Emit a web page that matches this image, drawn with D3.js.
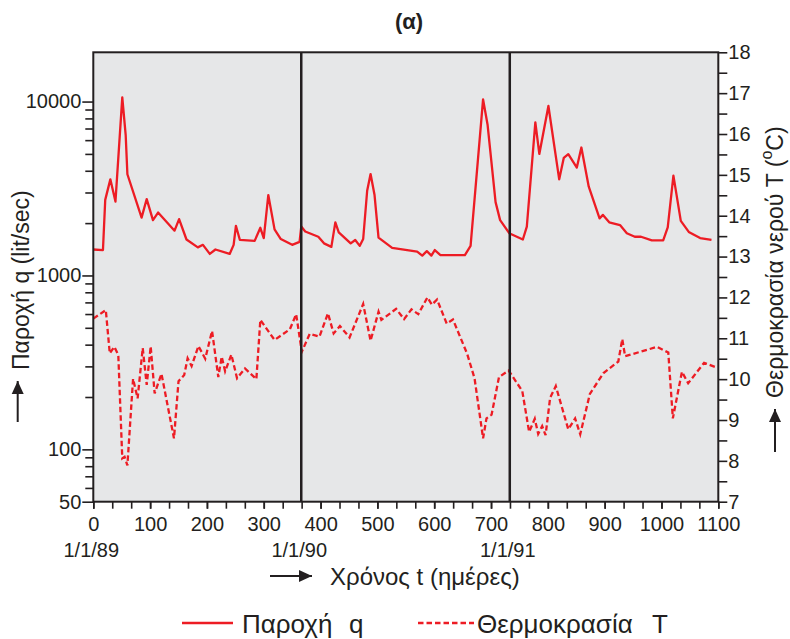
<!DOCTYPE html>
<html><head><meta charset="utf-8">
<script src="https://cdn.jsdelivr.net/npm/d3@7"></script>
<style>
body{margin:0;background:#fff;}
text{font-family:"Liberation Sans",Arial,sans-serif;fill:#231f20;}
</style>
</head><body><svg id="c" width="790" height="639"></svg>
<script>
// ---- data ----
const qDays=[0,17,21,30,39,51,57,60,85,94,105,114,143,151,164,184,193,205,215,240,247,251,258,284,294,300,308,319,330,350,363,366,373,396,406,419,426,432,453,461,469,475,482,488,495,502,526,570,579,587,595,601,611,654,664,686,694,708,716,732,756,763,778,785,801,820,828,836,851,859,872,891,897,908,927,939,953,964,983,1003,1011,1021,1034,1048,1068,1088];
const qVals=[1410,1400,2720,3570,2660,10580,6420,3820,2150,2750,2080,2300,1810,2110,1610,1450,1500,1330,1410,1330,1500,1930,1600,1580,1880,1640,2900,1840,1620,1500,1560,1910,1790,1670,1530,1460,2020,1770,1530,1600,1480,1620,3070,3830,2900,1650,1440,1370,1300,1380,1300,1400,1310,1310,1480,10300,7330,2640,2080,1750,1610,1910,7600,5000,9430,3570,4740,4980,4170,5440,3240,2130,2230,2020,1950,1750,1670,1670,1590,1590,1890,3750,2060,1780,1640,1600];
const tDays=[0,22,29,37,44,51,55,60,70,78,87,94,101,108,120,142,150,160,166,173,185,197,209,220,226,232,243,253,267,287,294,319,346,357,367,381,398,413,423,434,451,475,488,502,507,533,547,560,572,588,596,605,622,633,658,671,686,692,701,714,731,755,767,777,783,790,796,804,814,836,848,857,874,898,924,931,936,992,1012,1020,1036,1047,1075,1098];
const tVals=[11.48,11.69,10.63,10.79,10.59,8.06,8.10,7.89,10.01,9.53,10.76,9.86,10.80,9.65,10.13,8.55,9.95,10.10,10.51,10.32,10.81,10.50,11.18,10.05,10.55,10.19,10.60,10.02,10.26,10.00,11.45,10.96,11.22,11.59,10.67,11.11,11.04,11.61,11.12,11.30,11.02,11.84,10.94,11.65,11.45,11.72,11.47,11.71,11.59,12.00,11.82,11.95,11.36,11.46,10.62,10.02,8.55,9.04,9.13,10.05,10.21,9.71,8.71,9.03,8.66,8.85,8.63,9.54,9.83,8.77,9.04,8.65,9.64,10.15,10.43,10.98,10.56,10.79,10.65,9.04,10.18,9.90,10.40,10.28];
const xMajorTicks=[0,100,200,300,400,500,600,700,800,900,1000,1100];
const yearDays=[0,366,733];
const yearLabels=["1/1/89","1/1/90","1/1/91"];
const qMajorTicks=[50,100,1000,10000];
const qMinorTicks=[60,70,80,90,200,300,400,500,600,700,800,900,2000,3000,4000,5000,6000,7000,8000,9000];
const tMajorTicks=[7,8,9,10,11,12,13,14,15,16,17,18];
const tMinorTicks=[7.5,8.5,9.5,10.5,11.5,12.5,13.5,14.5,15.5,16.5,17.5];
const legendLabels=["Παροχή","q","Θερμοκρασία","T"];

// ---- layout ----
const L=93.3,R=718.3,T=52.3,B=501.7;
const red="#ed1c24", ink="#231f20";
const svg=d3.select("#c");
const x=d3.scaleLinear().domain([0,1100]).range([L,R]);
const yq=d3.scaleLog().domain([50,19200]).range([B,T]);
const yt=d3.scaleLinear().domain([7,18]).range([B,T]);

svg.append("rect").attr("x",L).attr("y",T).attr("width",R-L).attr("height",B-T).attr("fill","#e6e7e8");

// data lines
const qLine=d3.line().x(d=>x(d[0])).y(d=>yq(d[1]));
const tLine=d3.line().x(d=>x(d[0])).y(d=>yt(d[1]));
svg.append("path").attr("d",qLine(qDays.map((d,i)=>[d,qVals[i]])))
  .attr("fill","none").attr("stroke",red).attr("stroke-width",2.3).attr("stroke-linejoin","round");
svg.append("path").attr("d",tLine(tDays.map((d,i)=>[d,tVals[i]])))
  .attr("fill","none").attr("stroke",red).attr("stroke-width",2.3).attr("stroke-dasharray","5.5,3");

// year separators
svg.selectAll("line.yr").data(yearDays.slice(1)).join("line").attr("class","yr")
  .attr("x1",d=>x(d)).attr("x2",d=>x(d)).attr("y1",T).attr("y2",B)
  .attr("stroke",ink).attr("stroke-width",2.5);

// frame
svg.append("rect").attr("x",L).attr("y",T).attr("width",R-L).attr("height",B-T)
  .attr("fill","none").attr("stroke",ink).attr("stroke-width",2);

function style(g){g.select(".domain").remove();g.selectAll("line").attr("stroke",ink).attr("stroke-width",1.6);
  g.selectAll("text").attr("fill",ink).style("font-size","20px").attr("font-family",null);}

// left axis
svg.append("g").attr("transform",`translate(${L},0)`)
  .call(d3.axisLeft(yq).tickValues(qMinorTicks).tickSize(8).tickFormat("")).call(style);
svg.append("g").attr("transform",`translate(${L},0)`)
  .call(d3.axisLeft(yq).tickValues(qMajorTicks).tickSize(11).tickPadding(1).tickFormat(d3.format("d"))).call(style);

// right axis
svg.append("g").attr("transform",`translate(${R},0)`)
  .call(d3.axisRight(yt).tickValues(tMinorTicks).tickSize(9).tickFormat("")).call(style);
svg.append("g").attr("transform",`translate(${R},0)`)
  .call(d3.axisRight(yt).tickValues(tMajorTicks).tickSize(9).tickPadding(1).tickFormat(d3.format("d"))).call(style);

// bottom axis
svg.append("g").attr("transform",`translate(0,${B})`)
  .call(d3.axisBottom(x).tickValues(d3.range(0,1100.01,100/3)).tickSize(7).tickFormat("")).call(style);
svg.append("g").attr("transform",`translate(0,${B})`)
  .call(d3.axisBottom(x).tickValues(xMajorTicks).tickSize(7).tickPadding(8).tickFormat(d3.format("d"))).call(style);

// year labels
svg.selectAll("text.yl").data(yearDays).join("text").attr("class","yl")
  .attr("x",d=>x(d)-2).attr("y",556.5).attr("text-anchor","middle").style("font-size","20px")
  .text((d,i)=>yearLabels[i]);

// arrows
function arrow(x1,y1,x2,y2){
  svg.append("line").attr("x1",x1).attr("y1",y1).attr("x2",x2).attr("y2",y2).attr("stroke",ink).attr("stroke-width",2);
  const a=Math.atan2(y2-y1,x2-x1), len=13, w=6;
  const bx=x2-len*Math.cos(a), by=y2-len*Math.sin(a);
  const px=-Math.sin(a)*w, py=Math.cos(a)*w;
  svg.append("path").attr("d",`M${x2},${y2}L${bx+px},${by+py}L${bx-px},${by-py}Z`).attr("fill",ink);
}
arrow(270,576,312,576);
arrow(17.7,422,17.7,381);
arrow(775,452,775,409);

// titles
svg.append("text").attr("x",409).attr("y",29).attr("text-anchor","middle")
  .style("font-size","22px").style("font-weight","bold").text("(α)");
svg.append("text").attr("x",330).attr("y",585).style("font-size","24px").text("Χρόνος t (ημέρες)");
svg.append("text").attr("transform","translate(29,370) rotate(-90)").style("font-size","23px").text("Παροχή q (lit/sec)");
const rt=svg.append("text").attr("transform","translate(783,398) rotate(-90)").style("font-size","23px");
rt.append("tspan").text("Θερμοκρασία νερού T (");
rt.append("tspan").attr("dy",-11).style("font-size","16px").text("o");
rt.append("tspan").attr("dy",11).text("C)");

// legend
svg.append("line").attr("x1",182).attr("x2",233).attr("y1",623).attr("y2",623).attr("stroke",red).attr("stroke-width",2.3);
svg.append("text").attr("x",242).attr("y",633).style("font-size","26px").text(legendLabels[0]);
svg.append("text").attr("x",349).attr("y",633).style("font-size","26px").text(legendLabels[1]);
svg.append("line").attr("x1",418).attr("x2",474).attr("y1",623).attr("y2",623).attr("stroke",red).attr("stroke-width",2.3).attr("stroke-dasharray","5.5,3");
svg.append("text").attr("x",477).attr("y",633).style("font-size","26px").text(legendLabels[2]);
svg.append("text").attr("x",652).attr("y",633).style("font-size","26px").text(legendLabels[3]);
</script></body></html>
